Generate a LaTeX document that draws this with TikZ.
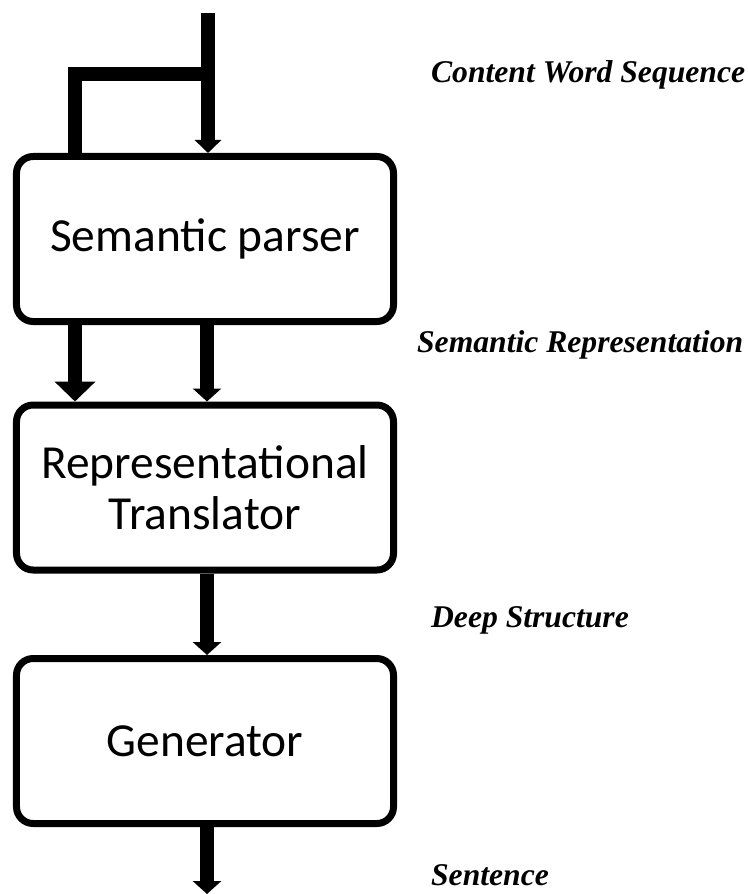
\documentclass[tikz,border=0pt]{standalone}
\usepackage{fontspec}
\setmainfont{Carlito}
\newfontfamily\labelfont{Liberation Serif}
\usetikzlibrary{arrows.meta}

\begin{document}
\begin{tikzpicture}[x=0.03cm,y=-0.03cm]
        \useasboundingbox (0,0) rectangle (747,894);
        \begin{scope}[every node/.style={draw=black,line width=0.21cm,rounded corners=0.5cm,minimum width=11.31cm,minimum height=4.95cm,align=center,font=\fontsize{40.5}{43.5}\selectfont}]
            \node (parser) at (205,239) {Semantic parser};
            \node (translator) at (205,487.5) {Representational\\Translator};
            \node (generator) at (205,741) {Generator};
        \end{scope}

        \coordinate (in) at (208,13);
        \coordinate (split) at (208,74);
        \coordinate (corner) at (75,74);
        \coordinate (right) at (207,0);
        \coordinate (out) at (207,894);

        \begin{scope}[every node/.style={anchor=base west,font=\labelfont\bfseries\itshape\fontsize{27}{30}\selectfont}]
            \node (seqlabel) at (427,82) {Content Word Sequence};
            \node (semlabel) at (413,352) {Semantic Representation};
            \node (deeplabel) at (427,627) {Deep Structure};
            \node (sentlabel) at (427,885) {Sentence};
        \end{scope}

        \begin{scope}[every edge/.style={draw,line width=0.42cm}]
            \path [-{Triangle[width=0.78cm,length=0.39cm]}] (in) edge (parser.north -| in);
            \draw [line width=0.4cm,line join=miter] (split) -- (corner) -- (parser.north -| corner);

            \path [-{Triangle[width=1.2cm,length=0.6cm]}] (parser.south -| corner) edge (translator.north -| corner);
            \path [-{Triangle[width=0.84cm,length=0.39cm]}] (parser.south -| right) edge (translator.north -| right);

            \path [-{Triangle[width=0.84cm,length=0.39cm]}] (translator.south -| right) edge (generator.north -| right);
            \path [-{Triangle[width=0.84cm,length=0.39cm]}] (generator.south -| right) edge (out);
        \end{scope}
    \end{tikzpicture}
\end{document}
